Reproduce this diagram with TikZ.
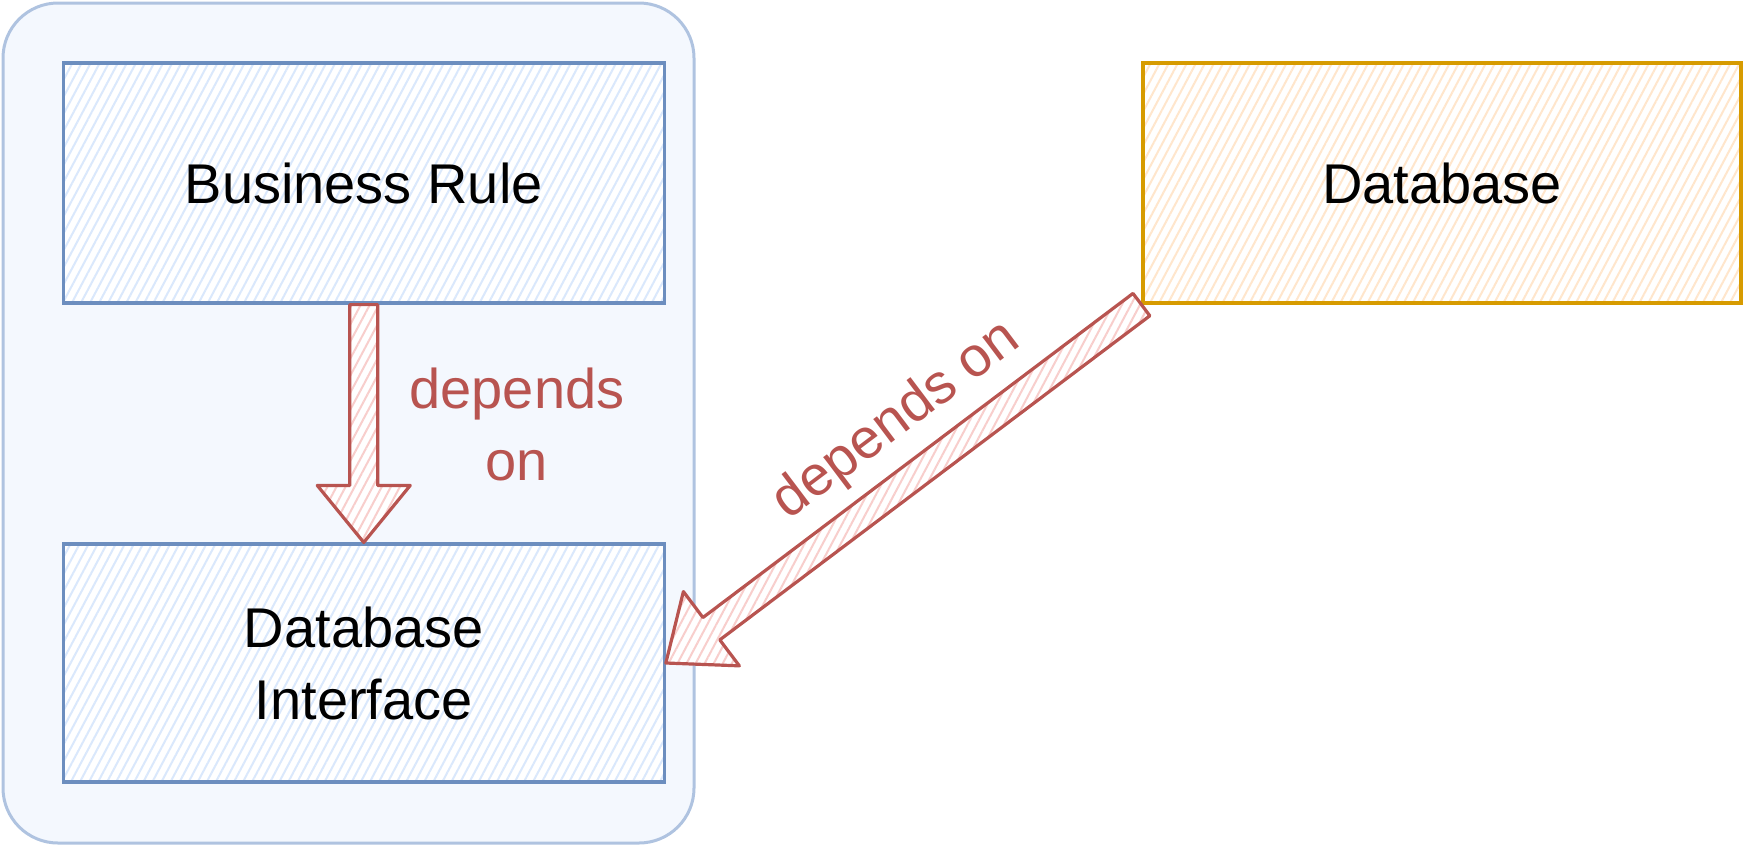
\documentclass[tikz,border=0pt]{standalone}
\usepackage{fontspec}
\setmainfont{Liberation Sans}
\usetikzlibrary{calc,patterns.meta}
\definecolor{bluefill}{HTML}{DAE8FC}
\definecolor{bluestroke}{HTML}{6C8EBF}
\definecolor{outerstroke}{HTML}{AFC3E0}
\definecolor{outerfill}{HTML}{F4F8FE}
\definecolor{orangefill}{HTML}{FFE6CC}
\definecolor{orangestroke}{HTML}{D79B00}
\definecolor{redfill}{HTML}{F8CECC}
\definecolor{redstroke}{HTML}{B85450}
\tikzset{
  hatch/.style={preaction={fill=white},
    preaction={pattern={Lines[angle=62,distance=8pt,line width=2pt]},pattern color=#1}},
  container/.style={draw=outerstroke, line width=3pt, fill=outerfill, rounded corners=55pt,
    minimum width=691pt, minimum height=840pt, inner sep=0pt},
  bluebox/.style={draw=bluestroke, line width=3.2pt, hatch=bluefill,
    minimum width=601pt, minimum height=240pt, inner sep=0pt, align=center,
    font=\fontsize{56}{72}\selectfont},
  orangebox/.style={draw=orangestroke, line width=3.2pt, hatch=orangefill,
    minimum width=598pt, minimum height=240pt, inner sep=0pt, align=center,
    font=\fontsize{56}{72}\selectfont},
  fatarrow/.style={draw=redstroke, line width=3.2pt, hatch=redfill, line join=round},
  redlabel/.style={text=redstroke, align=center, inner sep=0pt, font=\fontsize{56}{72}\selectfont}
}
\newcommand\myfatarrow[2]{%
  \coordinate (hb) at ($(#2)!57pt!(#1)$);
  \draw[fatarrow] ($(#1)!14pt!90:(#2)$) -- ($(hb)!14pt!-90:(#1)$) -- ($(hb)!46.5pt!-90:(#1)$)
    -- (#2) -- ($(hb)!46.5pt!90:(#1)$) -- ($(hb)!14pt!90:(#1)$) -- ($(#1)!14pt!-90:(#2)$) -- cycle;}
\begin{document}
\begin{tikzpicture}[x=1pt,y=-1pt]
\useasboundingbox (0,0) rectangle (1747,847);
\node[container] (grp) at (348.5,423) {};
\node[bluebox] (br) at (363.75,183) {Business Rule};
\node[bluebox, minimum height=238pt] (dbi) at (363.75,663) {Database\\Interface};
\node[orangebox] (db) at (1442,183) {Database};
\myfatarrow{br.south}{dbi.north}
\myfatarrow{db.south west}{dbi.east}
\node[redlabel] (l1) at (517,424) {depends\\on};
\node[redlabel, rotate=37] (l2) at (897,421) {depends on};
\end{tikzpicture}
\end{document}
